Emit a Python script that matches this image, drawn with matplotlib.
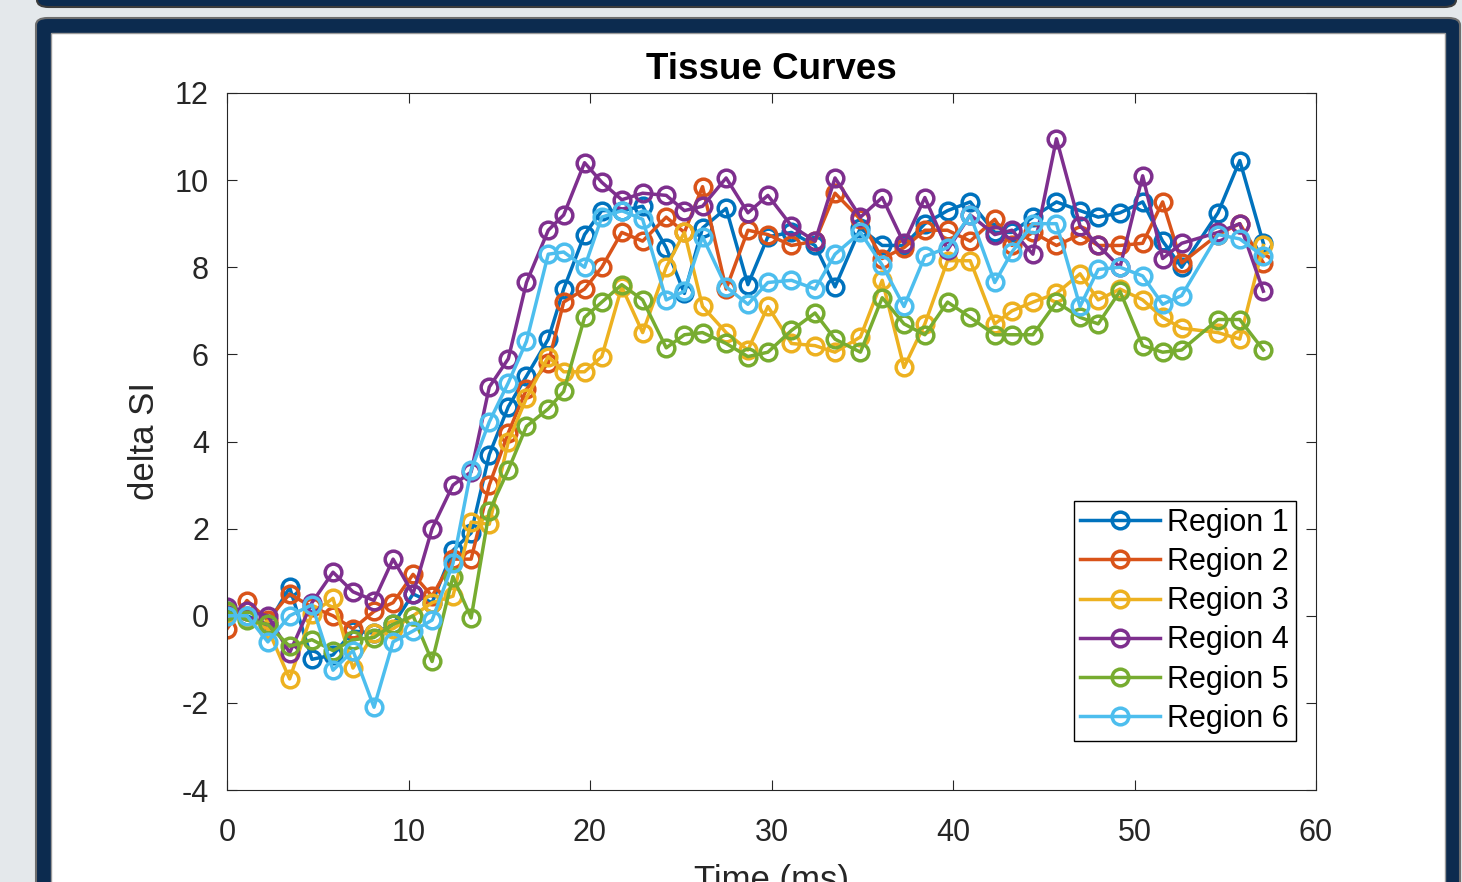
import numpy as np
import matplotlib
matplotlib.use("Agg")
import matplotlib.pyplot as plt
from matplotlib.patches import FancyBboxPatch, Rectangle

#  Sample times (ms) and the six tissue curves.

time_ms = [0.0, 1.1, 2.25, 3.45, 4.68, 5.84, 6.94, 8.1, 9.15, 10.25,
           11.3, 12.45, 13.45, 14.45, 15.5, 16.5, 17.7, 18.55, 19.7, 20.65,
           21.75, 22.9, 24.2, 25.2, 26.2, 27.5, 28.7, 29.8, 31.1, 32.4,
           33.5, 34.9, 36.1, 37.3, 38.45, 39.7, 40.95, 42.3, 43.25, 44.4,
           45.7, 47.0, 48.0, 49.2, 50.45, 51.55, 52.6, 54.6, 55.8, 57.1]

region1 = [0.1, 0.0, -0.2, 0.65, -1.0, -0.9, -0.35, -0.4, -0.2, 0.5,
           0.3, 1.5, 1.9, 3.7, 4.8, 5.5, 6.35, 7.5, 8.75, 9.3,
           9.3, 9.4, 8.45, 7.4, 8.9, 9.35, 7.6, 8.7, 8.8, 8.5,
           7.55, 8.9, 8.5, 8.5, 9.0, 9.3, 9.5, 8.8, 8.8, 9.15,
           9.5, 9.3, 9.15, 9.25, 9.5, 8.6, 8.0, 9.25, 10.45, 8.55]
region2 = [-0.3, 0.35, -0.1, 0.5, 0.2, 0.0, -0.3, 0.1, 0.3, 0.95,
           0.45, 1.3, 1.3, 3.0, 4.2, 5.2, 5.8, 7.2, 7.5, 8.0,
           8.8, 8.6, 9.15, 8.8, 9.85, 7.5, 8.85, 8.75, 8.5, 8.6,
           9.7, 9.1, 8.2, 8.45, 8.85, 8.85, 8.6, 9.1, 8.5, 8.8,
           8.5, 8.75, 8.5, 8.5, 8.55, 9.5, 8.1, 8.75, 9.0, 8.1]
region3 = [0.05, -0.05, -0.3, -1.45, 0.05, 0.4, -1.2, -0.4, -0.3, 0.0,
           0.3, 0.45, 2.15, 2.1, 4.0, 5.0, 5.95, 5.6, 5.6, 5.95,
           7.55, 6.5, 8.0, 8.8, 7.1, 6.5, 6.1, 7.1, 6.25, 6.2,
           6.05, 6.4, 7.7, 5.7, 6.7, 8.15, 8.15, 6.7, 7.0, 7.2,
           7.4, 7.85, 7.25, 7.5, 7.25, 6.85, 6.6, 6.5, 6.35, 8.5]
region4 = [0.2, 0.1, 0.0, -0.85, 0.3, 1.0, 0.55, 0.35, 1.3, 0.5,
           2.0, 3.0, 3.3, 5.25, 5.9, 7.65, 8.85, 9.2, 10.4, 9.95,
           9.55, 9.7, 9.65, 9.3, 9.4, 10.05, 9.25, 9.65, 8.95, 8.6,
           10.05, 9.15, 9.6, 8.55, 9.6, 8.4, 9.2, 8.75, 8.85, 8.3,
           10.95, 8.95, 8.5, 8.0, 10.1, 8.2, 8.55, 8.8, 9.0, 7.45]
region5 = [0.1, -0.1, -0.2, -0.7, -0.55, -0.8, -0.55, -0.5, -0.2, 0.0,
           -1.05, 0.9, -0.05, 2.4, 3.35, 4.35, 4.75, 5.15, 6.85, 7.2,
           7.6, 7.25, 6.15, 6.45, 6.5, 6.25, 5.95, 6.05, 6.55, 6.95,
           6.35, 6.05, 7.3, 6.7, 6.45, 7.2, 6.85, 6.45, 6.45, 6.45,
           7.2, 6.85, 6.7, 7.45, 6.2, 6.05, 6.1, 6.8, 6.8, 6.1]
region6 = [0.0, 0.0, -0.6, 0.0, 0.25, -1.25, -0.8, -2.1, -0.6, -0.35,
           -0.1, 1.2, 3.35, 4.45, 5.35, 6.3, 8.3, 8.35, 8.0, 9.15,
           9.3, 9.1, 7.25, 7.45, 8.7, 7.55, 7.15, 7.65, 7.7, 7.5,
           8.3, 8.8, 8.05, 7.1, 8.25, 8.45, 9.2, 7.65, 8.35, 9.0,
           9.0, 7.1, 7.95, 8.0, 7.8, 7.15, 7.35, 8.75, 8.65, 8.25]

labels = ["Region 1", "Region 2", "Region 3", "Region 4", "Region 5", "Region 6"]
x_ticks = [0, 10, 20, 30, 40, 50, 60]
y_ticks = [-4, -2, 0, 2, 4, 6, 8, 10, 12]

# MATLAB default line colours.

colors = ["#0072BD", "#D95319", "#EDB120", "#7E2F8E", "#77AC30", "#4DBEEE"]

plt.rcParams["font.family"] = ["Liberation Sans", "DejaVu Sans"]
plt.rcParams["axes.unicode_minus"] = False

W, H = 1462, 882
fig = plt.figure(figsize=(W / 100, H / 100), dpi=100, facecolor="#e4e8eb")


def px_box(x0, y0, x1, y1):
    # pixel box (top-left origin) -> figure fraction (left, bottom, w, h)
    return x0 / W, 1 - y1 / H, (x1 - x0) / W, (y1 - y0) / H


# Screenshot frame: bottom of the panel above, then the navy panel with white inside.

l, b, w, h = px_box(37, -40, 1456, 7)
fig.add_artist(FancyBboxPatch((l, b), w, h, boxstyle="round,pad=0,rounding_size=0.008",
                              transform=fig.transFigure, facecolor="#0c2b4f",
                              edgecolor="#3c3c3c", lw=1.5))
l, b, w, h = px_box(36, 18, 1460, 930)
fig.add_artist(FancyBboxPatch((l, b), w, h, boxstyle="round,pad=0,rounding_size=0.008",
                              transform=fig.transFigure, facecolor="#0c2b4f",
                              edgecolor="#6e6e6e", lw=1.5))
l, b, w, h = px_box(51, 33, 1445, 930)
fig.add_artist(Rectangle((l, b), w, h, transform=fig.transFigure,
                         facecolor="white", edgecolor="#9a9a9a", lw=1))

ax = fig.add_axes(px_box(227, 93, 1316, 790))
ax.set_zorder(5)

series = [region1, region2, region3, region4, region5, region6]
for vals, c, lab in zip(series, colors, labels):
    ax.plot(time_ms, vals, color=c, lw=2.5, marker="o", markersize=12,
            markerfacecolor="none", markeredgewidth=2.5, label=lab)

ax.set_xlim(0, 60)
ax.set_ylim(-4, 12)
ax.set_xticks(x_ticks)
ax.set_yticks(y_ticks)
ax.tick_params(direction="in", length=7, width=0.8, top=True, right=True,
               labelsize=22, colors="#262626")
ax.tick_params(axis="x", pad=20)
ax.tick_params(axis="y", pad=13)
for s in ax.spines.values():
    s.set_color("#262626")
    s.set_linewidth(0.8)

ax.set_title("Tissue Curves", fontsize=26.5, fontweight="bold", color="black", pad=10)
ax.set_xlabel("Time (ms)", fontsize=25, color="#262626", labelpad=12)
ax.set_ylabel("delta SI", fontsize=25, color="#262626", labelpad=10)

leg = ax.legend(loc="lower right", bbox_to_anchor=(0.9816, 0.071), borderaxespad=0,
                fontsize=22, handlelength=2.6, handletextpad=0.25, labelspacing=0.3,
                borderpad=0.22, fancybox=False, framealpha=1)
leg.get_frame().set_edgecolor("black")
leg.get_frame().set_linewidth(1)

fig.savefig("out.png", dpi=100, facecolor=fig.get_facecolor())
